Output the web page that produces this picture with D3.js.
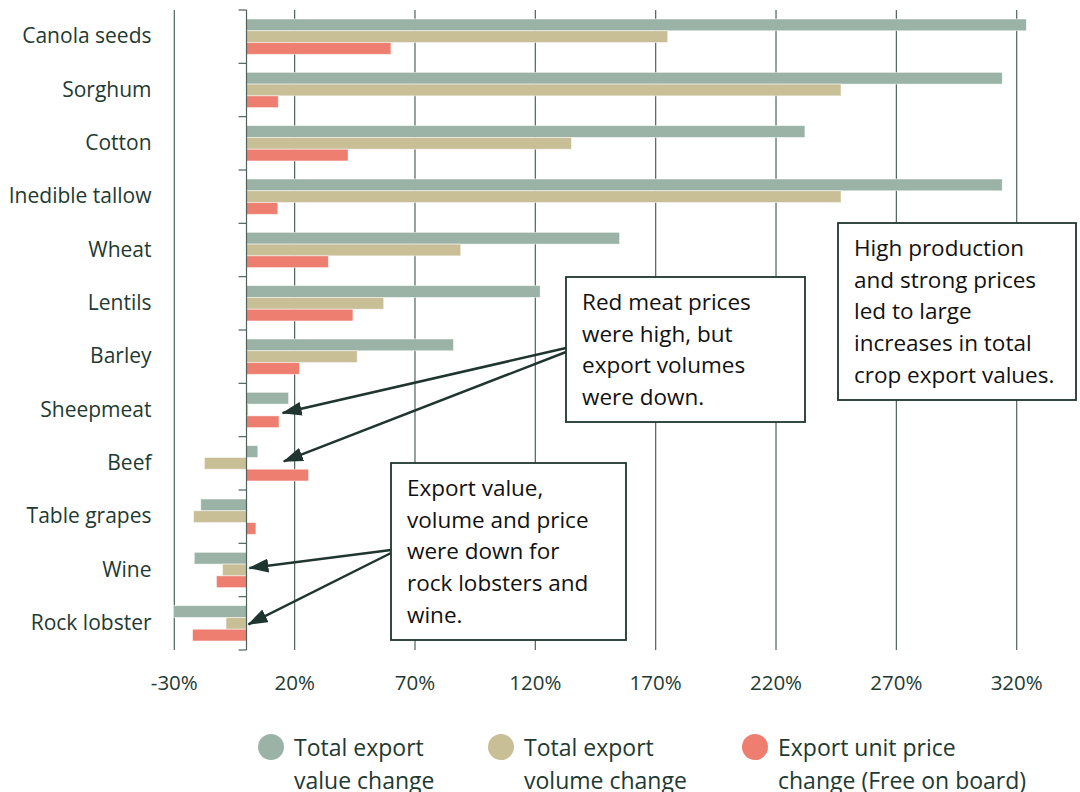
<!DOCTYPE html>
<html>
<head>
<meta charset="utf-8">
<script src="https://cdn.jsdelivr.net/npm/d3@7"></script>
<style>
  body { margin: 0; background: #fff; }
  svg text { font-family: "Open Sans", sans-serif; fill: #1e3a32; }
</style>
</head>
<body>
<svg id="chart" width="1080" height="792"></svg>
<script>
// categories, top to bottom
var categories = ["Canola seeds", "Sorghum", "Cotton", "Inedible tallow", "Wheat", "Lentils",
                  "Barley", "Sheepmeat", "Beef", "Table grapes", "Wine", "Rock lobster"];

// % change
var valueChange  = [324, 314, 232, 314, 155, 122, 86, 17.5, 4.7, -19, -21.7, -30.3];
var volumeChange = [175, 247, 135, 247, 89, 57, 46, 0.7, -17.5, -22, -10, -8.5];
var priceChange  = [60, 13.2, 42.2, 13, 34, 44.2, 22, 13.5, 25.8, 3.9, -12.5, -22.4];

var seriesNames = ["Total export value change", "Total export volume change",
                   "Export unit price change (Free on board)"];
var legendLines = [["Total export", "value change"], ["Total export", "volume change"],
                   ["Export unit price", "change (Free on board)"]];
var colors = ["#9bb3a7", "#c8bf97", "#ee7e70"];

var xTicks = [-30, 20, 70, 120, 170, 220, 270, 320];

var svg = d3.select("#chart");

var x = d3.scaleLinear()
    .domain([-30, 320])
    .range([174.3, 1016.7]);

var y = d3.scaleBand()
    .domain(categories)
    .range([10, 650]);

var ySub = d3.scaleBand()
    .domain(seriesNames)
    .range([9, 44.3]);

// vertical gridlines
svg.append("g").selectAll("line")
    .data(xTicks)
    .enter().append("line")
    .attr("x1", function(d) { return x(d); })
    .attr("x2", function(d) { return x(d); })
    .attr("y1", 10)
    .attr("y2", 650)
    .attr("stroke", "#4f625a")
    .attr("stroke-width", 1.2);

// tick labels
svg.append("g").selectAll("text")
    .data(xTicks)
    .enter().append("text")
    .attr("x", function(d) { return x(d); })
    .attr("y", 683)
    .attr("dy", "0.35em")
    .attr("text-anchor", "middle")
    .style("font-size", "20.5px")
    .text(function(d) { return d + "%"; });

// bars
var table = categories.map(function(c, i) {
    return { cat: c, vals: [valueChange[i], volumeChange[i], priceChange[i]] };
});

var groups = svg.append("g").selectAll("g")
    .data(table)
    .enter().append("g")
    .attr("transform", function(d) { return "translate(0," + y(d.cat) + ")"; });

groups.selectAll("rect")
    .data(function(d) { return d.vals.map(function(v, j) { return { v: v, s: seriesNames[j], j: j }; }); })
    .enter().append("rect")
    .attr("x", function(d) { return x(Math.min(0, d.v)); })
    .attr("width", function(d) { return Math.abs(x(d.v) - x(0)); })
    .attr("y", function(d) { return ySub(d.s); })
    .attr("height", ySub.bandwidth())
    .attr("fill", function(d) { return colors[d.j]; })
    .attr("stroke", "#fff")
    .attr("stroke-opacity", 0.6)
    .attr("stroke-width", 0.8);

// zero axis with category ticks
var yAxis = d3.axisLeft(y).tickSize(0).tickPadding(95);
var axisG = svg.append("g")
    .attr("transform", "translate(" + x(0) + ",0)")
    .call(yAxis);
axisG.select(".domain").remove();
axisG.selectAll("text")
    .style("font-size", "21px")
    .attr("fill", "#1e3a32");

svg.append("line")
    .attr("x1", x(0)).attr("x2", x(0))
    .attr("y1", 10).attr("y2", 650)
    .attr("stroke", "#4f625a").attr("stroke-width", 1.2);

svg.append("g").selectAll("line")
    .data(categories.concat(["end"]))
    .enter().append("line")
    .attr("x1", x(0) - 8).attr("x2", x(0))
    .attr("y1", function(d, i) { return 10 + i * y.step(); })
    .attr("y2", function(d, i) { return 10 + i * y.step(); })
    .attr("stroke", "#4f625a").attr("stroke-width", 1.2);

// annotations
svg.append("defs").append("marker")
    .attr("id", "head")
    .attr("markerUnits", "userSpaceOnUse")
    .attr("viewBox", "0 0 20 14")
    .attr("refX", 19).attr("refY", 7)
    .attr("markerWidth", 20).attr("markerHeight", 14)
    .attr("orient", "auto")
    .append("path")
    .attr("d", "M0,0 L20,7 L0,14 Z")
    .attr("fill", "#1e3530");

var notes = [
    { x: 566, y: 277, w: 239, h: 145,
      lines: ["Red meat prices", "were high, but", "export volumes", "were down."],
      arrows: [{ from: [566, 348], cat: "Sheepmeat", v: 15, dy: 3 },
               { from: [566, 352], cat: "Beef", v: 15.5, dy: -2 }] },
    { x: 838, y: 223, w: 238, h: 177,
      lines: ["High production", "and strong prices", "led to large", "increases in total", "crop export values."],
      arrows: [] },
    { x: 391, y: 463, w: 235, h: 177,
      lines: ["Export value,", "volume and price", "were down for", "rock lobsters and", "wine."],
      arrows: [{ from: [391, 550], cat: "Wine", v: 1.2, dy: -2 },
               { from: [391, 553], cat: "Rock lobster", v: 0.8, dy: 1 }] }
];

notes.forEach(function(n) {
    n.arrows.forEach(function(a) {
        svg.append("line")
            .attr("x1", a.from[0]).attr("y1", a.from[1])
            .attr("x2", x(a.v)).attr("y2", y(a.cat) + y.bandwidth() / 2 + a.dy)
            .attr("stroke", "#1e3530")
            .attr("stroke-width", 2.5)
            .attr("marker-end", "url(#head)");
    });
    svg.append("rect")
        .attr("x", n.x).attr("y", n.y)
        .attr("width", n.w).attr("height", n.h)
        .attr("fill", "#fff")
        .attr("stroke", "#1e3530")
        .attr("stroke-width", 1.8);
    svg.append("text")
        .selectAll("tspan")
        .data(n.lines)
        .enter().append("tspan")
        .attr("x", n.x + 16)
        .attr("y", function(d, i) { return n.y + 25 + i * 31.8; })
        .attr("dy", "0.35em")
        .style("font-size", "22.5px")
        .style("fill", "#111")
        .text(function(d) { return d; });
});

// legend
var legendX = [271, 501, 755];
var legend = svg.append("g").selectAll("g")
    .data(seriesNames)
    .enter().append("g")
    .attr("transform", function(d, i) { return "translate(" + legendX[i] + ",747)"; });

legend.append("circle")
    .attr("r", 13)
    .attr("fill", function(d, i) { return colors[i]; });

legend.append("text")
    .selectAll("tspan")
    .data(function(d, i) { return legendLines[i]; })
    .enter().append("tspan")
    .attr("x", 23)
    .attr("y", function(d, i) { return 1 + i * 33; })
    .attr("dy", "0.35em")
    .style("font-size", "23px")
    .text(function(d) { return d; });
</script>
</body>
</html>
